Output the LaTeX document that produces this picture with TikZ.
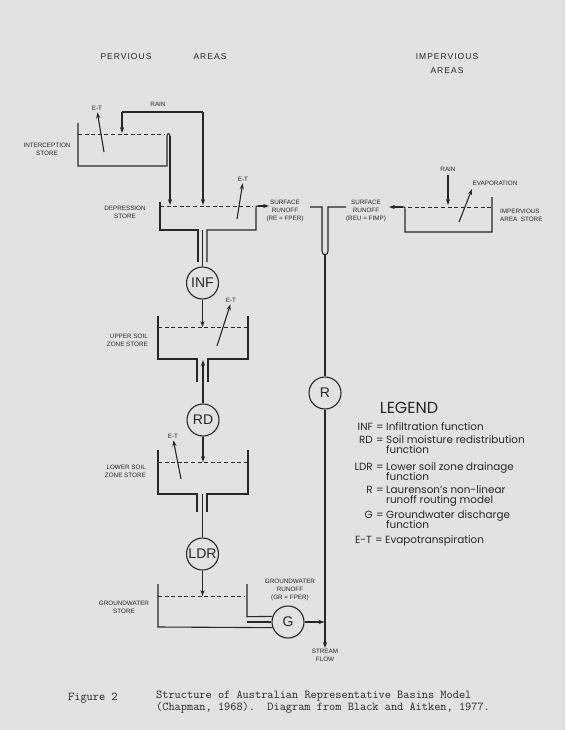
\documentclass[tikz,border=0pt]{standalone}
\usepackage{fontspec}
\setmainfont{Liberation Sans}
\newfontfamily\legendfont{Poppins}
\newfontfamily\headfont[LetterSpace=12]{Liberation Sans}
\usetikzlibrary{arrows.meta,positioning}
\definecolor{paper}{RGB}{226,226,224}
\definecolor{ink}{RGB}{38,38,38}
\tikzset{
  wall/.style={draw=ink, line width=1.1pt},
  water/.style={draw=ink, line width=0.9pt, dash pattern=on 4pt off 2.6pt},
  flow/.style={draw=ink, line width=1.1pt, -{Stealth[length=6pt,width=4.2pt]}},
  func/.style={circle, draw=ink, line width=1.1pt, minimum size=32pt, inner sep=0pt, text=ink, font=\fontsize{14}{14}\selectfont},
  lbl/.style={text=ink, inner sep=0pt, align=center, font=\fontsize{6.3}{8}\selectfont},
  head/.style={text=ink, inner sep=0pt, align=center, font=\headfont\fontsize{8.5}{14}\selectfont},
  key/.style={text=ink, inner sep=0pt, font=\legendfont\fontsize{10.4}{10}\selectfont},
  captext/.style={text=ink, inner sep=0pt, font=\ttfamily\fontsize{12}{10.2}\selectfont},
}
\begin{document}
\begin{tikzpicture}[x=1pt,y=-1pt]
        \fill[paper] (0,0) rectangle (565,730);
        \useasboundingbox (0,0) rectangle (565,730);
        % headings
        \node[head] (hper) at (126,57) {PERVIOUS};
        \node[head] (hpareas) at (210,57) {AREAS};
        \node[head] (himp) at (447,64) {IMPERVIOUS\\AREAS};
        % interception store
        \draw[wall] (78,123) -- (78,166) -- (167,166) -- (167,136) .. controls (167,133) and (170,133) .. (170,136);
        \draw[water] (78,134) -- (165,134);
        \node[lbl] (lblint) at (47,149) {INTERCEPTION\\STORE};
        \node[lbl] (etint) at (97,108) {E-T};
        \coordinate (etinttail) at (104,152);
        \draw[flow, shorten >=2pt] (etinttail) -- (etint.south);
        \node[lbl] (rainper) at (158,104) {RAIN};
        \coordinate (rainl) at (122,112);
        \coordinate (rainr) at (203,112);
        \coordinate (intin) at (122,133);
        \coordinate (depin) at (203,205);
        \coordinate (spill) at (170,136);
        \coordinate (spillin) at (170,205);
        \draw[wall] (rainl) -- (rainr);
        \draw[flow] (rainl) -- (intin);
        \draw[flow] (rainr) -- (depin);
        \draw[flow] (spill) -- (spillin);
        % depression store
        \draw[wall] (160,202) -- (160,230) -- (198,230) -- (198,262);
        \draw[wall] (207,262) -- (207,230) -- (256,230) -- (256,208) .. controls (256,206) .. (258,206);
        \draw[water] (160,206) -- (253,206);
        \node[lbl] (lbldep) at (125,212.5) {DEPRESSION\\STORE};
        \node[lbl] (etdep) at (243,179) {E-T};
        \coordinate (etdeptail) at (237,219);
        \draw[flow, shorten >=2pt] (etdeptail) -- (etdep.south);
        \coordinate (depout) at (258,206);
        \coordinate (runperend) at (269,206);
        \draw[flow] (depout) -- (runperend);
        \node[lbl] (runper) at (285,211) {SURFACE\\RUNOFF\\(RE = FPER)};
        % infiltration and upper soil zone
        \node[func] (INF) at (202.5,283) {INF};
        \coordinate (deppipe) at (202.5,230);
        \draw[wall] (deppipe) -- (INF.north);
        \coordinate (upsin) at (202.5,327);
        \draw[flow] (INF.south) -- (upsin);
        \draw[wall] (158,316) -- (158,359) -- (197,359) -- (197,382);
        \draw[wall] (208,382) -- (208,359) -- (248,359) -- (248,316);
        \draw[water] (158,327) -- (248,327);
        \node[lbl, anchor=east, align=right] (lblups) at (148,340) {UPPER SOIL\\ZONE STORE};
        \node[lbl] (etups) at (231,300) {E-T};
        \coordinate (etupstail) at (217,346);
        \draw[flow, shorten >=2pt] (etupstail) -- (etups.south);
        % redistribution and lower soil zone
        \node[func] (RD) at (203,420) {RD};
        \coordinate (upsbot) at (203,360);
        \draw[flow] (RD.north) -- (upsbot);
        \coordinate (lwsin) at (203,462);
        \draw[flow] (RD.south) -- (lwsin);
        \draw[wall] (158,450) -- (158,494) -- (197,494) -- (197,512);
        \draw[wall] (207,512) -- (207,494) -- (248,494) -- (248,450);
        \draw[water] (158,462) -- (248,462);
        \node[lbl, anchor=east, align=right] (lbllws) at (146,471) {LOWER SOIL\\ZONE STORE};
        \node[lbl] (etlws) at (173,436) {E-T};
        \coordinate (etlwstail) at (181,479);
        \draw[flow, shorten >=2pt] (etlwstail) -- (etlws.south);
        % drainage and groundwater
        \node[func] (LDR) at (202.5,554) {LDR};
        \coordinate (lwspipe) at (202.5,494);
        \draw[wall] (lwspipe) -- (LDR.north);
        \coordinate (gwsin) at (202.5,596);
        \draw[flow] (LDR.south) -- (gwsin);
        \node[func] (G) at (288,622) {G};
        \draw[wall] (158,584) -- (158,627) -- (G.200);
        \draw[wall] (247,584) -- (247,616.7) -- (G.160);
        \coordinate (gwspipe) at (247,622);
        \draw[wall] (gwspipe) -- (G.west);
        \draw[water] (158,596) -- (245,596);
        \node[lbl] (lblgws) at (124,607) {GROUNDWATER\\STORE};
        \node[lbl] (rungw) at (290,590) {GROUNDWATER\\RUNOFF\\(GR = FPER)};
        % impervious area store
        \draw[wall] (492,197) -- (492,232) -- (405,232) -- (405,209.5) .. controls (405,207) .. (403,207);
        \draw[water] (408,207) -- (492,207);
        \coordinate (impout) at (403,207);
        \coordinate (runimpend) at (389,207);
        \draw[flow] (impout) -- (runimpend);
        \node[lbl] (runimp) at (366,211) {SURFACE\\RUNOFF\\(REU = FIMP)};
        \node[lbl] (rainimp) at (448,169) {RAIN};
        \coordinate (rainimptail) at (448,175);
        \coordinate (impin) at (448,205);
        \draw[flow] (rainimptail) -- (impin);
        \node[lbl] (evap) at (495,183) {EVAPORATION};
        \coordinate (evaptail) at (459,222);
        \coordinate (evaptip) at (472,189);
        \draw[flow] (evaptail) -- (evaptip);
        \node[lbl, anchor=west, align=left] (lblimp) at (500,215) {IMPERVIOUS\\AREA\ \ STORE};
        % stream
        \draw[wall] (310,207) -- (322,207) -- (322,251) .. controls (322,256) and (328,256) .. (328,251) -- (328,207) -- (346,207);
        \node[func] (R) at (325,393) {R};
        \coordinate (streamtop) at (325,254.5);
        \draw[wall] (streamtop) -- (R.north);
        \coordinate (outlet) at (325,648);
        \draw[flow] (R.south) -- (outlet);
        \coordinate (gwjoin) at (324.5,622);
        \draw[flow] (G.east) -- (gwjoin);
        \node[lbl] (lblstream) at (325,655.5) {STREAM\\FLOW};
        % legend
        \node[text=ink, inner sep=0pt, font=\legendfont\fontsize{16}{16}\selectfont] (legend) at (409,408) {LEGEND};
        \node[key, anchor=base east] (kinf) at (373,430.6) {INF};
        \node[key, anchor=base] (einf) at (380,430.6) {=};
        \node[key, anchor=base west] (tinf) at (386,430.6) {Infiltration function};
        \node[key, anchor=base east] (krd) at (373,443.6) {RD};
        \node[key, anchor=base] (erd) at (380,443.6) {=};
        \node[key, anchor=base west] (trd) at (386,443.6) {Soil moisture redistribution};
        \node[key, anchor=base west] (trdb) at (386,453.4) {function};
        \node[key, anchor=base east] (kldr) at (373,470.6) {LDR};
        \node[key, anchor=base] (eldr) at (380,470.6) {=};
        \node[key, anchor=base west] (tldr) at (386,470.6) {Lower soil zone drainage};
        \node[key, anchor=base west] (tldrb) at (386,480) {function};
        \node[key, anchor=base east] (kr) at (373,493.6) {R};
        \node[key, anchor=base] (er) at (380,493.6) {=};
        \node[key, anchor=base west] (tr) at (386,493.6) {Laurenson’s non-linear};
        \node[key, anchor=base west] (trb) at (386,503) {runoff routing model};
        \node[key, anchor=base east] (kg) at (373,518.6) {G};
        \node[key, anchor=base] (eg) at (380,518.6) {=};
        \node[key, anchor=base west] (tg) at (386,518.6) {Groundwater discharge};
        \node[key, anchor=base west] (tgb) at (386,528) {function};
        \node[key, anchor=base east] (ket) at (372,543.6) {E-T};
        \node[key, anchor=base] (eet) at (379,543.6) {=};
        \node[key, anchor=base west] (tet) at (385,543.6) {Evapotranspiration};
        % caption
        \node[captext, anchor=base west] (figno) at (68,700) {Figure 2};
        \node[captext, anchor=base west, align=left] (capa) at (156,710.2) {Structure of Australian Representative Basins Model\\(Chapman, 1968).~~Diagram from Black and Aitken, 1977.};
    \end{tikzpicture}
\end{document}
